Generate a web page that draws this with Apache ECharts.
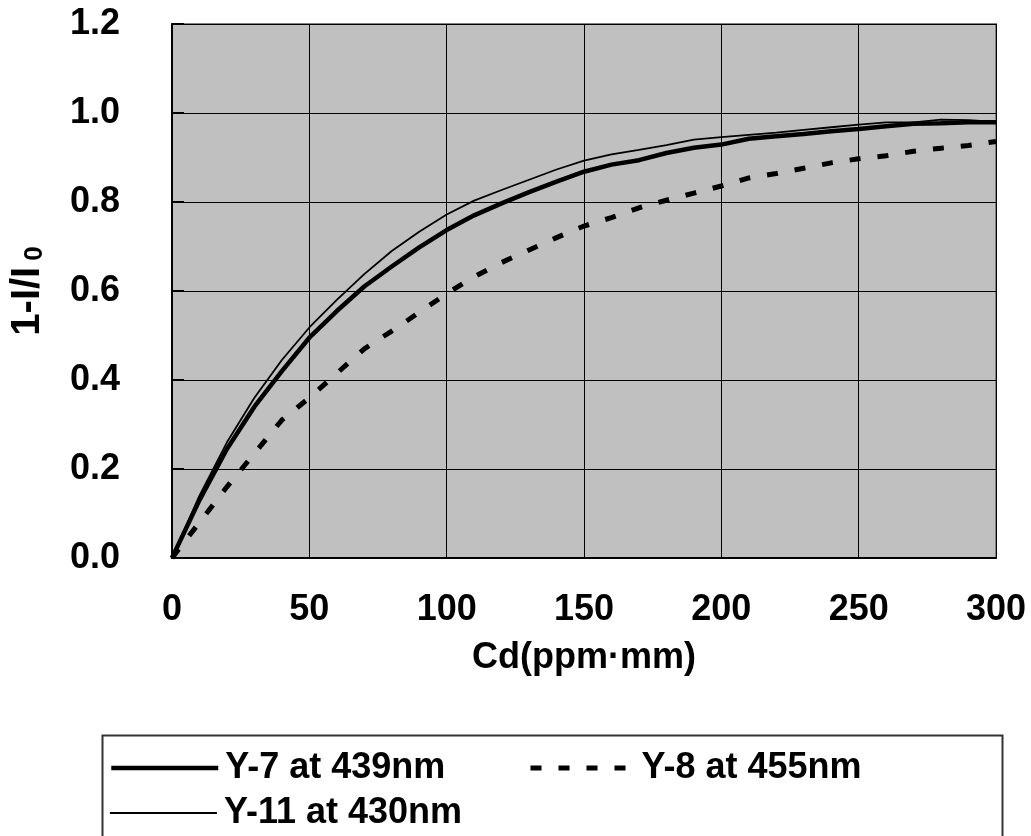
<!DOCTYPE html>
<html>
<head>
<meta charset="utf-8">
<script src="https://cdn.jsdelivr.net/npm/echarts@6/dist/echarts.min.js"></script>
<style>
  html, body { margin: 0; padding: 0; background: #fff; }
  #chart { width: 1031px; height: 836px; }
</style>
</head>
<body>
<div id="chart"></div>
<script>
// Cd (ppm·mm) on the x axis, 0..300 every 10
var cd = [0, 10, 20, 30, 40, 50, 60, 70, 80, 90, 100, 110, 120, 130, 140, 150,
          160, 170, 180, 190, 200, 210, 220, 230, 240, 250, 260, 270, 280, 290, 300]

// 1-I/I0 readings
var y7 = [0, 0.13, 0.245, 0.34, 0.42, 0.495, 0.555, 0.61, 0.655, 0.698, 0.737, 0.77, 0.797, 0.822, 0.846, 0.868,
          0.884, 0.894, 0.91, 0.922, 0.929, 0.942, 0.948, 0.953, 0.959, 0.964, 0.97, 0.976, 0.977, 0.979, 0.979]
var y8 = [0, 0.08, 0.16, 0.235, 0.31, 0.36, 0.415, 0.47, 0.51, 0.552, 0.594, 0.632, 0.664, 0.692, 0.72, 0.746,
          0.765, 0.787, 0.804, 0.82, 0.836, 0.854, 0.864, 0.876, 0.888, 0.897, 0.904, 0.914, 0.921, 0.927, 0.936]
var y11 = [0, 0.14, 0.26, 0.36, 0.445, 0.518, 0.58, 0.638, 0.69, 0.733, 0.772, 0.803, 0.827, 0.85, 0.873, 0.893,
           0.907, 0.917, 0.928, 0.94, 0.946, 0.951, 0.956, 0.962, 0.968, 0.974, 0.979, 0.979, 0.985, 0.984, 0.98]

var names = ['Y-7 at 439nm', 'Y-8 at 455nm', 'Y-11 at 430nm']

function pairs(ys) {
  return cd.map(function (x, i) { return [x, ys[i]] })
}

var font = '"Liberation Sans", Arial, sans-serif'
var legendText = { color: '#000', fontFamily: font, fontWeight: 'bold', fontSize: 36, padding: [0, 0, 0, 2] }

var styles = [
  { color: '#000', width: 4.5 },
  { color: '#000', width: 5, type: [11, 17] },
  { color: '#000', width: 1.8 }
]

function legendFor(i, left, top, w) {
  return {
    data: [names[i]], left: left, top: top,
    itemWidth: w, itemHeight: 20, itemGap: 0,
    selectedMode: false, textStyle: legendText,
    itemStyle: { opacity: 0 },
    lineStyle: styles[i]
  }
}

var myChart = echarts.init(document.getElementById('chart'))
var option = {
  backgroundColor: '#fff',
  animation: false,
  grid: {
    left: 167, right: 35, top: 24, bottom: 278,
    show: true,
    backgroundColor: '#c0c0c0',
    borderColor: '#808080',
    borderWidth: 2
  },
  xAxis: {
    type: 'value',
    min: 0, max: 300, interval: 50,
    name: 'Cd(ppm·mm)',
    nameLocation: 'middle',
    nameGap: 82,
    nameTextStyle: { color: '#000', fontFamily: font, fontWeight: 'bold', fontSize: 36 },
    axisLine: { show: true, lineStyle: { color: '#000', width: 2 } },
    axisTick: { show: false },
    axisLabel: { color: '#000', fontFamily: font, fontWeight: 'bold', fontSize: 36, margin: 34 },
    splitLine: { show: true, lineStyle: { color: '#000', width: 1 } }
  },
  yAxis: {
    type: 'value',
    min: 0, max: 1.2, interval: 0.2,
    name: '{a|1-I/I}{b|0}',
    nameLocation: 'middle',
    nameGap: 124,
    nameRotate: 90,
    nameTextStyle: {
      rich: {
        a: { color: '#000', fontFamily: font, fontWeight: 'bold', fontSize: 40 },
        b: { color: '#000', fontFamily: font, fontWeight: 'bold', fontSize: 26, padding: [14, 0, 0, 6] }
      }
    },
    axisLine: { show: true, lineStyle: { color: '#000', width: 2 } },
    axisTick: { show: true, inside: true, length: 12, lineStyle: { color: '#000', width: 2 } },
    axisLabel: {
      color: '#000', fontFamily: font, fontWeight: 'bold', fontSize: 36, margin: 52,
      formatter: function (v) { return v.toFixed(1) }
    },
    splitLine: { show: true, lineStyle: { color: '#000', width: 1 } }
  },
  legend: [
    legendFor(0, 104, 745, 107),
    legendFor(1, 523, 745, 104),
    legendFor(2, 104, 790, 107)
  ],
  graphic: [{
    type: 'rect',
    left: 100, top: 733,
    shape: { width: 900, height: 140 },
    style: { fill: 'none', stroke: '#333', lineWidth: 2 },
    z: -1
  }],
  series: [
    {
      name: names[0], type: 'line', data: pairs(y7), symbol: 'none',
      lineStyle: styles[0], itemStyle: { color: '#000' }, z: 3
    },
    {
      name: names[1], type: 'line', data: pairs(y8), symbol: 'none',
      lineStyle: styles[1], itemStyle: { color: '#000' }, z: 2
    },
    {
      name: names[2], type: 'line', data: pairs(y11), symbol: 'none',
      lineStyle: styles[2], itemStyle: { color: '#000' }, z: 4
    }
  ]
}
myChart.setOption(option)
</script>
</body>
</html>
